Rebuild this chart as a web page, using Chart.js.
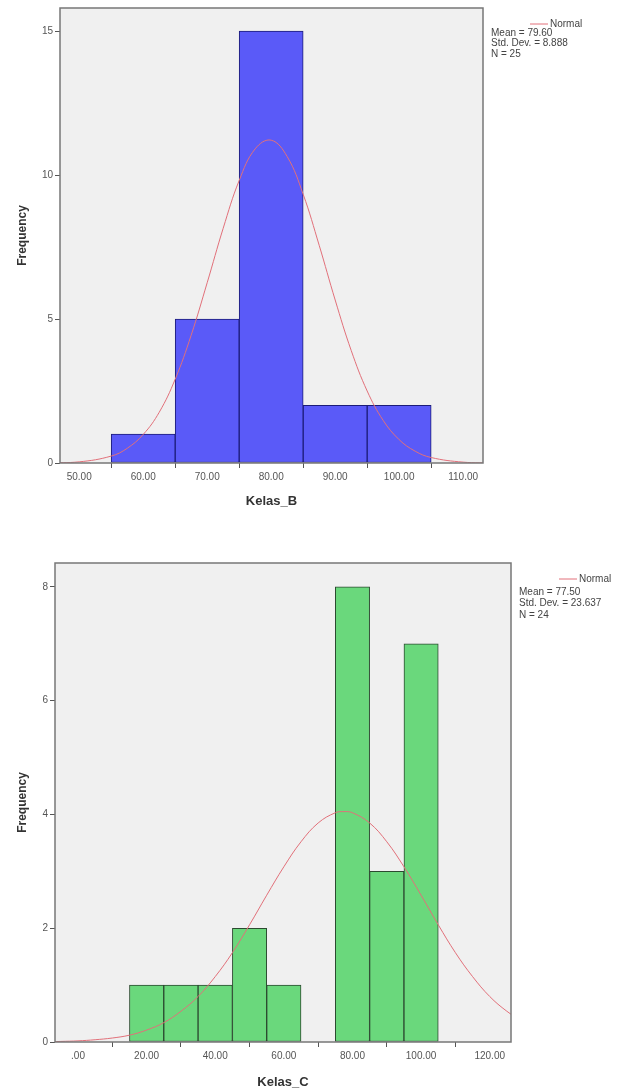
<!DOCTYPE html>
<html>
<head>
<meta charset="utf-8">
<script src="https://cdn.jsdelivr.net/npm/chart.js@4.4.0/dist/chart.umd.min.js"></script>
<style>
    body { margin: 0; background: #fff; width: 628px; height: 1092px; overflow: hidden; }
    canvas { position: absolute; left: 0; }
    #chartB { top: 0; }
    #chartC { top: 540px; }
</style>
</head>
<body>
<canvas id="chartB" width="628" height="540"></canvas>
<canvas id="chartC" width="628" height="552"></canvas>
<script>
// Kelas_B histogram (bin centres, width 10)
const binsB = [60, 70, 80, 90, 100];
const countsB = [1, 5, 15, 2, 2];
// normal curve
const curveXB = [45, 50, 55, 57.5, 60, 62.5, 65, 67.5, 70, 72.5, 75, 77.5, 80, 82.5, 85, 87.5, 90, 92.5, 95, 97.5, 100, 102.5, 105, 110, 115];
const curveYB = [0.01, 0.04, 0.24, 0.51, 0.99, 1.76, 2.91, 4.44, 6.26, 8.15, 9.81, 10.91, 11.21, 10.64, 9.33, 7.56, 5.66, 3.91, 2.50, 1.48, 0.81, 0.41, 0.19, 0.03, 0.00];
const ticksXB = [50, 60, 70, 80, 90, 100, 110];
const ticksYB = [0, 5, 10, 15];
const statsB = ['Mean = 79.60', 'Std. Dev. = 8.888', 'N = 25'];

// Kelas_C histogram
const binsC = [20, 30, 40, 50, 60, 70, 80, 90, 100];
const countsC = [1, 1, 1, 2, 1, 0, 8, 3, 7];
const curveXC = [-10, -5, 0, 5, 10, 15, 20, 25, 30, 35, 40, 45, 50, 55, 60, 65, 70, 75, 77.5, 80, 85, 90, 95, 100, 105, 110, 115, 120, 125, 130];
const curveYC = [0.00, 0.01, 0.02, 0.04, 0.07, 0.12, 0.21, 0.34, 0.54, 0.80, 1.15, 1.57, 2.06, 2.58, 3.08, 3.52, 3.85, 4.03, 4.05, 4.03, 3.85, 3.52, 3.08, 2.58, 2.06, 1.57, 1.15, 0.80, 0.54, 0.34];
const ticksXC = [0, 20, 40, 60, 80, 100, 120];
const ticksYC = [0, 2, 4, 6, 8];
const statsC = ['Mean = 77.50', 'Std. Dev. = 23.637', 'N = 24'];

const CURVE_COLOR = 'rgb(226, 112, 122)';
const FONT = 'Liberation Sans, Arial, sans-serif';

// grey plot background + frame, SPSS style
const plotFrame = {
    id: 'plotFrame',
    beforeDraw(chart) {
        const a = chart.chartArea;
        const ctx = chart.ctx;
        ctx.save();
        ctx.fillStyle = '#f0f0f0';
        ctx.fillRect(a.left, a.top, a.right - a.left, a.bottom - a.top);
        ctx.restore();
    },
    afterDatasetsDraw(chart) {
        const a = chart.chartArea;
        const ctx = chart.ctx;
        ctx.save();
        ctx.strokeStyle = '#777';
        ctx.lineWidth = 1.5;
        ctx.strokeRect(a.left, a.top, a.right - a.left, a.bottom - a.top);
        ctx.restore();
    }
};

// the little "Normal" legend with the stats under it
const statsLegend = {
    id: 'statsLegend',
    afterDraw(chart, args, opts) {
        const ctx = chart.ctx;
        ctx.save();
        ctx.strokeStyle = CURVE_COLOR;
        ctx.lineWidth = 1;
        ctx.beginPath();
        ctx.moveTo(opts.lineX1, opts.lineY);
        ctx.lineTo(opts.lineX2, opts.lineY);
        ctx.stroke();
        ctx.fillStyle = '#444';
        ctx.font = '10px ' + FONT;
        ctx.textBaseline = 'middle';
        ctx.textAlign = 'left';
        ctx.fillText('Normal', opts.lineX2 + 2, opts.lineY);
        opts.lines.forEach((t, i) => {
            ctx.fillText(t, opts.textX, opts.textY + i * opts.step);
        });
        ctx.restore();
    }
};

function fmtX(v) {
    return v === 0 ? '.00' : v.toFixed(2);
}

function makeHistogram(canvas, c) {
    return new Chart(canvas, {
        type: 'bar',
        data: {
            datasets: [{
                type: 'line',
                data: c.curveX.map((x, i) => ({ x: x, y: c.curveY[i] })),
                borderColor: CURVE_COLOR,
                borderWidth: 1,
                pointRadius: 0,
                tension: 0.4,
                fill: false,
                order: 0
            }, {
                type: 'bar',
                data: c.bins.map((x, i) => ({ x: x, y: c.counts[i] })),
                backgroundColor: c.fill,
                borderColor: c.edge,
                borderWidth: 1,
                borderSkipped: false,
                barPercentage: 1,
                categoryPercentage: 1,
                order: 1
            }]
        },
        options: {
            responsive: false,
            animation: false,
            events: [],
            layout: { padding: c.padding },
            plugins: {
                legend: { display: false },
                tooltip: { enabled: false },
                statsLegend: c.legend
            },
            scales: {
                x: {
                    type: 'linear',
                    offset: false,
                    min: c.xMin,
                    max: c.xMax,
                    afterBuildTicks: s => { s.ticks = c.ticksX.map(v => ({ value: v })); },
                    afterFit: s => { s.height = c.xHeight; },
                    grid: { drawOnChartArea: false, drawTicks: true, tickLength: 5, tickColor: '#555' },
                    border: { display: false },
                    ticks: { callback: fmtX, color: '#555', font: { family: FONT, size: 10 }, padding: 3, maxRotation: 0, autoSkip: false },
                    title: { display: true, text: c.xTitle, color: '#333', font: { family: FONT, size: 13, weight: 'bold' }, padding: 0 }
                },
                y: {
                    min: 0,
                    max: c.yMax,
                    afterBuildTicks: s => { s.ticks = c.ticksY.map(v => ({ value: v })); },
                    afterFit: s => { s.width = c.yWidth; },
                    grid: { drawOnChartArea: false, drawTicks: true, tickLength: 5, tickColor: '#555' },
                    border: { display: false },
                    ticks: { color: '#555', font: { family: FONT, size: 10 }, padding: 2 },
                    title: { display: true, text: 'Frequency', color: '#333', font: { family: FONT, size: 12, weight: 'bold' }, padding: { top: 15, bottom: 0 } }
                }
            }
        },
        plugins: [plotFrame, statsLegend]
    });
}

makeHistogram(document.getElementById('chartB'), {
    bins: binsB, counts: countsB, curveX: curveXB, curveY: curveYB,
    ticksX: ticksXB, ticksY: ticksYB,
    xMin: 47, xMax: 113.1, yMax: 15.8,
    fill: '#5a5af8', edge: '#1c1c78',
    xTitle: 'Kelas_B',
    padding: { left: 0, top: 8, right: 145, bottom: 31 },
    yWidth: 60, xHeight: 46,
    legend: { lineX1: 530, lineX2: 548, lineY: 24, textX: 491, textY: 33, step: 10.5, lines: statsB }
});

makeHistogram(document.getElementById('chartC'), {
    bins: binsC, counts: countsC, curveX: curveXC, curveY: curveYC,
    ticksX: ticksXC, ticksY: ticksYC,
    xMin: -6.7, xMax: 126.2, yMax: 8.42,
    fill: '#6ad87c', edge: '#2c4a30',
    xTitle: 'Kelas_C',
    padding: { left: 0, top: 23, right: 117, bottom: 2 },
    yWidth: 55, xHeight: 48,
    legend: { lineX1: 559, lineX2: 577, lineY: 39, textX: 519, textY: 52, step: 11.5, lines: statsC }
});
</script>
</body>
</html>
